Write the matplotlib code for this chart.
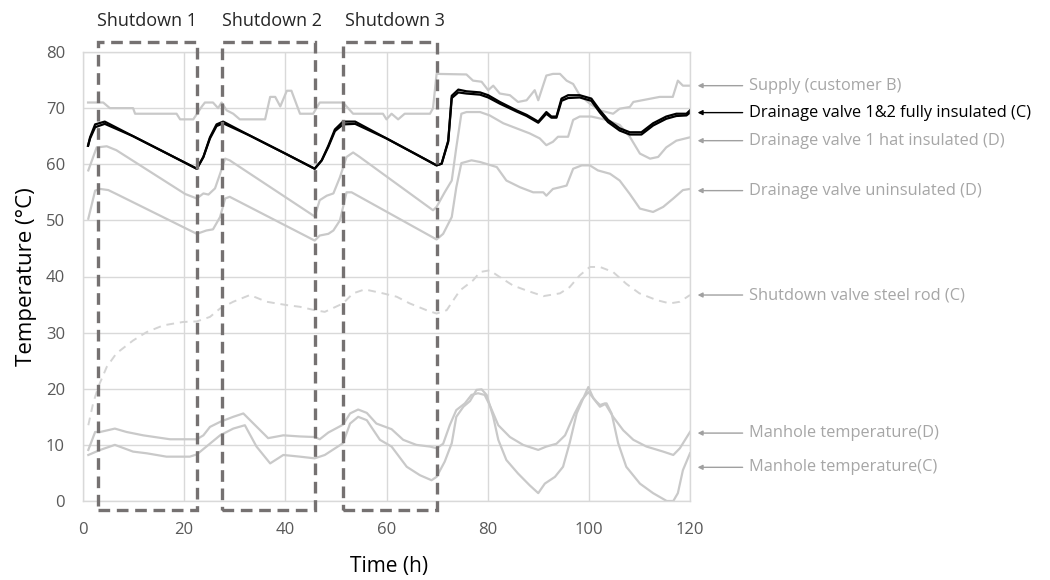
import matplotlib
matplotlib.use("Agg")
import matplotlib.pyplot as plt
from matplotlib.patches import Rectangle

plt.rcParams['font.family'] = ['Open Sans', 'DejaVu Sans']

# --- data ---
supply_t = [1.0, 4.0, 5.3, 9.9, 10.3, 18.5, 19.2, 21.8, 23.5, 24.1, 25.7, 26.7, 27.4, 28.4, 29.7,
            31.0, 36.0, 37.0, 38.0, 39.0, 40.3, 41.2, 42.9, 45.5, 46.8, 51.4, 52.1, 53.4, 59.3,
            60.0, 61.0, 62.3, 63.6, 68.6, 69.2, 69.9, 75.8, 77.1, 78.8, 80.1, 81.1, 82.4, 84.4,
            86.0, 87.7, 89.3, 90.0, 91.6, 92.9, 94.3, 95.6, 96.9, 98.2, 100.2, 102.2, 104.8,
            106.1, 108.1, 108.8, 114.0, 116.6, 117.6, 118.6, 120.0]
supply_v = [71, 71, 70, 70, 69, 69, 68, 68, 70.3, 71, 71, 70, 71, 69.6, 69,
            68, 68, 72, 72, 70.3, 73.1, 73.1, 69, 69, 71, 71, 70.3, 69, 69,
            68, 69, 68, 69, 69, 70, 76.1, 76, 74.9, 74.7, 73.2, 74.0, 72.6, 72.3,
            71.1, 71.4, 73.2, 71.4, 75.8, 76.1, 76.1, 74.9, 74.3, 72.3, 70.8, 69.6, 69.0,
            69.9, 70.2, 71.1, 72, 72, 74.9, 74, 74]

valve_t = [1.0, 1.4, 2.4, 4.3, 9.9, 16.0, 22.5, 23.8, 25.1, 26.4, 27.7, 33.0, 40.0, 45.8,
           47.2, 48.5, 49.8, 51.4, 53.8, 60.0, 66.0, 69.9, 70.9, 72.2, 72.9, 74.2, 75.8,
           78.5, 80.1, 82.4, 85.7, 87.7, 90.0, 91.6, 92.6, 93.6, 94.6, 95.9, 98.2, 100.5,
           102.2, 103.8, 106.1, 108.1, 110.4, 112.7, 115.3, 117.3, 119.3, 120.0]
valve1_v = [63.3, 64.8, 67.1, 67.6, 65.0, 62.2, 59.2, 61.3, 64.8, 67.1, 67.6, 65.1, 61.9, 59.2,
            60.7, 63.3, 66.2, 67.6, 67.6, 64.6, 61.7, 59.8, 60.1, 64.2, 72.2, 73.3, 73.0,
            72.8, 72.3, 71.1, 69.6, 68.8, 67.6, 69.3, 68.5, 68.5, 71.7, 72.3, 72.3, 71.7,
            69.6, 67.9, 66.4, 65.7, 65.7, 67.3, 68.5, 69.0, 69.0, 69.6]
valve2_v = [63.3, 64.6, 66.6, 67.2, 65.0, 62.2, 59.2, 61.3, 64.6, 66.8, 67.3, 65.1, 61.9, 59.2,
            60.7, 63.1, 65.9, 67.1, 67.2, 64.6, 61.7, 59.8, 60.1, 64.0, 71.8, 72.8, 72.6,
            72.4, 71.9, 70.8, 69.4, 68.6, 67.4, 69.0, 68.3, 68.3, 71.3, 71.8, 71.9, 71.3,
            69.2, 67.5, 66.0, 65.3, 65.3, 66.9, 68.1, 68.6, 68.7, 69.2]

hat_t = [1.05, 2.7, 4.7, 6.6, 20.2, 22.5, 23.8, 24.8, 26.1, 27.1, 28.1, 29.0, 45.8, 46.8, 48.2,
         49.5, 50.8, 52.1, 53.4, 54.7, 69.2, 69.9, 71.5, 72.9, 73.8, 74.8, 75.8, 78.5, 80.4,
         83.1, 85.7, 88.3, 90.3, 91.6, 92.9, 93.9, 95.9, 96.9, 98.2, 100.5, 103.5, 106.1,
         108.1, 110.1, 112.1, 113.7, 115.3, 117.3, 120.0]
hat_v = [58.9, 63.0, 63.2, 62.5, 54.7, 53.9, 54.8, 54.6, 55.7, 58.3, 61.0, 60.7, 50.7, 53.6, 54.4,
         54.8, 57.7, 61.3, 62.1, 61.3, 51.8, 52.4, 55.0, 57.1, 63.0, 69.0, 69.3, 69.3, 68.7,
         67.3, 66.4, 65.5, 64.6, 63.4, 64.0, 64.9, 64.9, 67.9, 68.5, 68.5, 67.9, 67.0,
         64.9, 61.9, 61.0, 61.3, 63.0, 64.2, 64.8]

unins_t = [1.05, 2.4, 3.4, 5.0, 6.6, 22.5, 24.4, 25.7, 27.1, 28.1, 29.0, 45.8, 46.8, 48.5, 49.5,
           50.8, 52.1, 53.1, 54.7, 69.9, 71.2, 72.9, 73.8, 74.8, 76.8, 78.5, 81.8, 83.7, 86.4,
           89.0, 91.0, 91.6, 92.9, 94.3, 95.6, 96.9, 98.6, 100.2, 101.8, 104.2, 106.1, 108.1,
           110.1, 112.7, 114.7, 116.7, 118.6, 120.0]
unins_v = [50.3, 55.3, 55.6, 55.4, 54.7, 47.6, 48.2, 48.4, 50.6, 53.9, 54.2, 46.4, 47.3, 47.6, 48.2,
           50.0, 55.0, 55.0, 54.2, 46.6, 47.6, 50.6, 55.9, 60.2, 60.7, 60.4, 59.5, 57.1, 55.9,
           55.0, 55.0, 54.4, 55.6, 55.9, 56.2, 59.2, 59.8, 59.8, 58.9, 58.3, 57.1, 54.7,
           52.1, 51.5, 52.4, 53.9, 55.4, 55.6]

rod_t = [1.05, 2.0, 3.0, 4.7, 6.6, 9.9, 12.6, 15.9, 19.8, 22.5, 25.1, 27.1, 29.7, 33.0, 36.3,
         40.3, 42.9, 45.8, 47.8, 51.4, 53.4, 55.7, 59.3, 62.0, 64.6, 67.9, 69.9, 71.9, 74.5,
         77.1, 78.5, 80.4, 82.4, 85.0, 87.7, 91.0, 94.3, 96.2, 98.2, 100.2, 102.2, 104.8,
         107.4, 110.0, 113.4, 116.0, 118.0, 120.0]
rod_v = [13.5, 17.4, 20.3, 23.9, 26.3, 28.6, 30.1, 31.3, 31.9, 32.0, 32.8, 34.3, 35.5, 36.7, 35.5,
         34.9, 34.6, 34.0, 33.7, 35.2, 37.0, 37.7, 37.0, 36.4, 35.2, 34.0, 33.4, 34.0, 37.5,
         39.3, 40.8, 41.1, 39.9, 38.4, 37.5, 36.5, 37.0, 38.1, 40.2, 41.7, 41.7, 40.8,
         38.7, 37.0, 35.8, 35.2, 35.5, 36.7]

mhD_t = [1.05, 2.4, 3.4, 6.3, 8.6, 11.9, 17.2, 22.5, 23.8, 25.1, 27.1, 29.7, 31.7, 33.7, 36.6,
         39.6, 42.9, 45.8, 46.8, 48.5, 51.4, 52.8, 54.4, 56.1, 58.0, 61.0, 63.3, 65.9, 68.6,
         69.9, 71.2, 72.5, 73.8, 75.5, 76.8, 78.1, 79.4, 80.4, 82.1, 84.4, 87.0, 90.0, 91.6,
         93.6, 95.3, 97.2, 98.6, 99.9, 101.5, 102.2, 103.2, 104.8, 106.8, 108.8, 111.4,
         114.7, 116.7, 118.0, 120.0]
mhD_v = [9.1, 12.3, 12.3, 12.9, 12.3, 11.7, 11.0, 11.0, 11.7, 13.2, 14.1, 15.0, 15.6, 13.8, 11.2,
         11.7, 11.5, 11.4, 11.0, 12.2, 13.6, 15.6, 16.3, 15.7, 13.8, 12.8, 10.9, 10.0, 9.7,
         9.4, 10.2, 13.5, 16.2, 17.4, 18.9, 19.2, 18.9, 17.1, 13.5, 11.4, 10.0, 9.1, 9.7,
         10.2, 11.7, 15.6, 18.0, 19.4, 17.7, 17.1, 17.4, 15.0, 12.6, 10.9, 9.7,
         8.8, 8.2, 9.4, 12.3]

mhC_t = [1.05, 3.4, 6.3, 9.9, 12.6, 16.5, 21.1, 22.5, 24.4, 27.1, 29.7, 32.0, 34.3, 37.0, 39.6,
         42.9, 45.8, 47.8, 51.4, 52.8, 54.4, 56.1, 58.7, 61.0, 64.0, 66.6, 68.9, 69.9, 71.5,
         72.9, 73.8, 75.2, 76.5, 77.8, 78.8, 79.8, 81.1, 82.1, 83.7, 86.0, 88.3, 90.0, 91.3,
         93.3, 94.9, 96.2, 97.6, 98.9, 99.9, 100.9, 102.2, 103.5, 104.5, 105.8, 107.4,
         110.1, 112.7, 115.4, 116.7, 117.6, 118.6, 120.0]
mhC_v = [8.2, 9.1, 10.0, 8.8, 8.5, 7.9, 7.9, 8.3, 9.7, 11.7, 12.9, 13.5, 9.7, 6.7, 8.2,
         7.9, 7.6, 8.2, 10.3, 13.8, 15.0, 14.4, 10.9, 9.7, 6.1, 4.6, 3.7, 4.3, 7.0,
         10.3, 15.0, 16.8, 17.8, 19.8, 19.9, 18.9, 15.0, 10.9, 7.3, 4.9, 2.8, 1.4, 3.1,
         4.3, 6.1, 10.3, 15.6, 18.3, 20.3, 18.3, 16.8, 17.4, 15.6, 10.3, 6.1,
         3.1, 1.4, 0.0, 0.0, 1.4, 5.5, 8.5]

shutdowns = [(3.0, 22.5), (27.4, 45.8), (51.4, 69.9)]
shutdown_labels = ["Shutdown 1", "Shutdown 2", "Shutdown 3"]
shutdown_label_x = [12.6, 37.4, 61.7]

labels = ["Supply (customer B)", "Drainage valve 1&2 fully insulated (C)",
          "Drainage valve 1 hat insulated (D)", "Drainage valve uninsulated (D)",
          "Shutdown valve steel rod (C)", "Manhole temperature(D)", "Manhole temperature(C)"]
label_y = [74.0, 69.2, 64.2, 55.3, 36.7, 12.1, 6.0]

# --- styling ---
LIGHT = '#c9c9c9'
GRID = '#d9d9d9'
BOX = '#757171'
TXT_GREY = '#a6a6a6'

fig = plt.figure(figsize=(10.5, 5.8), dpi=100)
ax = fig.add_axes([83 / 1050, 1 - 501 / 580, 607 / 1050, 449 / 580])

ax.plot(supply_t, supply_v, color=LIGHT, lw=1.6)
ax.plot(hat_t, hat_v, color=LIGHT, lw=1.6)
ax.plot(unins_t, unins_v, color=LIGHT, lw=1.6)
ax.plot(rod_t, rod_v, color='#d4d4d4', lw=1.4, ls=(0, (4, 3)))
ax.plot(mhD_t, mhD_v, color=LIGHT, lw=1.6)
ax.plot(mhC_t, mhC_v, color=LIGHT, lw=1.6)
ax.plot(valve_t, valve1_v, color='black', lw=1.6)
ax.plot(valve_t, valve2_v, color='black', lw=1.6)

ax.set_xlim(0, 120)
ax.set_ylim(0, 80)
ax.set_xticks(range(0, 121, 20))
ax.set_yticks(range(0, 81, 10))
ax.grid(True, color=GRID, lw=1.0)
ax.set_axisbelow(True)
for s in ax.spines.values():
    s.set_color(GRID)
    s.set_linewidth(1.0)
ax.tick_params(length=0, labelsize=12, labelcolor='#595959')
ax.tick_params(axis='y', pad=13)
ax.tick_params(axis='x', pad=15)
ax.set_xlabel("Time (h)", fontsize=15, color='black')
ax.xaxis.set_label_coords(0.505, -0.122)
ax.set_ylabel("Temperature (°C)", fontsize=16, color='black', labelpad=6)

# shutdown boxes
for (x0, x1), lab, lx in zip(shutdowns, shutdown_labels, shutdown_label_x):
    r = Rectangle((x0, -1.6), x1 - x0, 83.3, fill=False, edgecolor=BOX, lw=2.4,
                  ls=(0, (3.5, 2)), clip_on=False, zorder=5)
    ax.add_patch(r)
    ax.text(lx, 85.6, lab, ha='center', va='center', fontsize=13, color='#262626',
            clip_on=False)

# right-hand labels with arrows
for i, (lab, y) in enumerate(zip(labels, label_y)):
    col = 'black' if i == 1 else TXT_GREY
    acol = 'black' if i == 1 else '#a0a0a0'
    ax.annotate('', xy=(121.5, y), xytext=(130.4, y), annotation_clip=False,
                arrowprops=dict(arrowstyle='-|>', color=acol, lw=1.0, mutation_scale=7,
                                shrinkA=0, shrinkB=0))
    ax.text(131.6, y, lab, ha='left', va='center', fontsize=11.8, color=col, clip_on=False)

fig.savefig("out.png", dpi=100)
